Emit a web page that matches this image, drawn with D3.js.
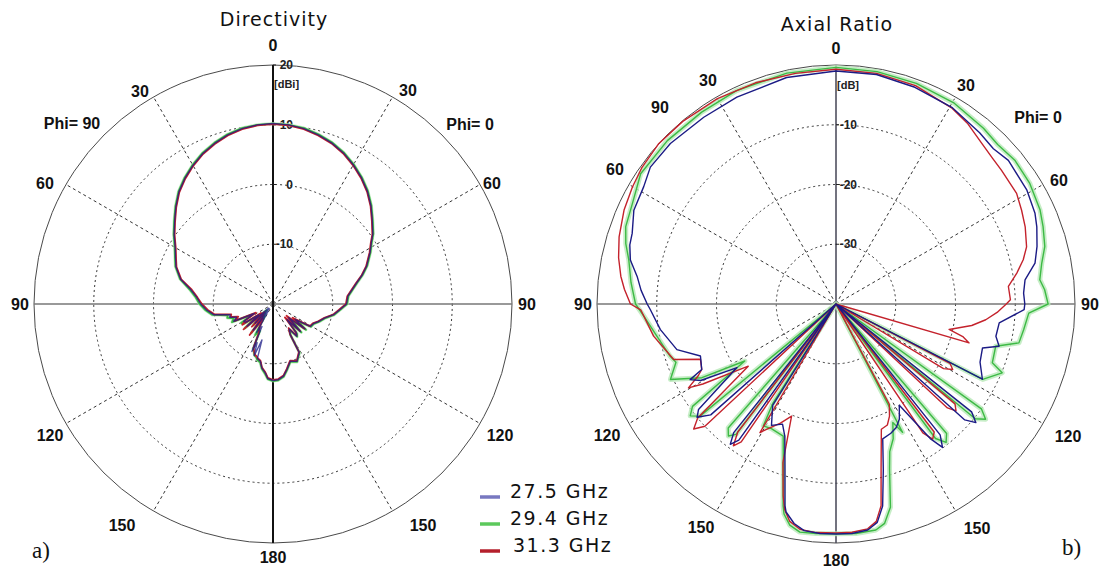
<!DOCTYPE html>
<html><head><meta charset="utf-8">
<script src="https://cdn.jsdelivr.net/npm/d3@7"></script>
<style>
body{margin:0;background:#fff;}
svg{display:block;}
</style></head>
<body>
<svg id="chart" width="1101" height="569"></svg>
<script>
// ---------------- DATA ----------------
const seriesNames = ["27.5 GHz", "29.4 GHz", "31.3 GHz"];
const angleTicks = [30, 60, 120, 150];

// Directivity (dBi) ; angle in degrees, 0 = top, + = Phi=0 side (right), - = Phi=90 side (left)
const dirTheta = [-180,-176,-173.6,-170.2,-167.5,-164,-162.9,-160,-157.7,-156,-154,-150,-146,-143,-140,-137,-134,-130.7,-127,-124,-120.6,-117,-113.8,-110,-107,-104,-100.2,-95,-90,-85,-80,-75,-69,-65,-60,-55,-50,-45,-40,-35,-30,-25,-20,-15,-10,-5,0,5,10,15,20,25,30,35,40,45,50,55,58,62,68,72,76,80,84,90,95,100,105,110.9,116,121,125,128,131,135,138.3,141,143.5,147,150.6,151.5,157.3,163.2,168,171.7,176,180];
const dir275 = [-7.2,-7.5,-8.4,-9.1,-10.2,-10.5,-13.7,-10.8,-13.0,-11.3,-15.8,-14.5,-18.5,-14.5,-19.0,-15.6,-19.0,-14.3,-17.0,-14.5,-14.3,-16.5,-12.8,-13.5,-12.4,-12.6,-9.9,-8.8,-7.9,-7.2,-6.0,-4.0,-2.6,-2.0,-1.1,0.2,1.5,3.0,4.5,5.7,6.8,7.8,8.6,9.3,9.8,10.1,10.2,10.1,9.8,9.3,8.7,7.9,6.9,5.8,4.6,3.2,1.7,0.4,-0.6,-1.6,-3.1,-4.3,-5.6,-6.6,-7.4,-7.7,-8.8,-9.7,-11.0,-11.8,-12.5,-12.7,-15.5,-13.2,-16.5,-13.5,-16.5,-13.8,-13.3,-15.0,-14.1,-10.8,-9.6,-10.0,-8.8,-7.8,-7.3,-7.2];
const dir294 = [-7.1,-7.4,-8.2,-9.0,-10.0,-10.3,-10.6,-10.9,-11.5,-11.8,-15.0,-14.0,-17.5,-14.0,-18.0,-15.2,-18.5,-13.8,-16.5,-14.0,-13.8,-16.0,-12.5,-13.0,-12.0,-12.2,-9.7,-8.6,-7.7,-7.0,-5.8,-3.9,-2.5,-1.9,-1.0,0.3,1.6,3.1,4.6,5.8,6.9,7.9,8.7,9.4,9.9,10.1,10.2,10.1,9.9,9.4,8.8,8.0,7.0,5.9,4.7,3.3,1.8,0.5,-0.5,-1.5,-3.0,-4.2,-5.5,-6.5,-7.3,-7.6,-8.7,-9.6,-10.9,-11.7,-12.4,-12.6,-15.0,-13.0,-16.0,-13.3,-16.0,-13.6,-13.2,-14.8,-14.0,-10.7,-9.5,-9.9,-8.7,-7.7,-7.2,-7.1];
const dir313 = [-7.3,-7.6,-8.5,-9.2,-10.3,-10.6,-10.8,-11.0,-11.6,-12.0,-14.5,-15.5,-17.0,-13.5,-17.5,-14.8,-18.0,-13.5,-17.5,-13.8,-14.6,-16.8,-13.0,-13.8,-12.6,-12.8,-10.1,-9.0,-8.1,-7.3,-6.2,-4.1,-2.7,-2.1,-1.2,0.1,1.4,2.9,4.4,5.6,6.7,7.7,8.5,9.2,9.7,10.0,10.1,10.0,9.7,9.2,8.6,7.8,6.8,5.7,4.5,3.1,1.6,0.3,-0.7,-1.7,-3.2,-4.4,-5.7,-6.7,-7.5,-7.8,-8.9,-9.8,-11.1,-11.9,-12.6,-12.8,-16.0,-13.3,-17.0,-13.6,-17.0,-13.9,-13.4,-15.2,-14.2,-10.9,-9.7,-10.1,-8.9,-7.9,-7.4,-7.3];

// Axial ratio (dB)
const ar275Theta = [-180,-176,-172,-169.2,-166.5,-165.8,-162.8,-158.8,-156,-152,-148,-146,-144.5,-143,-141.5,-138,-131.5,-129.2,-127.5,-122.7,-119.5,-117.4,-116,-111,-106,-98.3,-91.7,-90,-86,-82.1,-77.9,-74,-70.9,-65.1,-58.6,-53.6,-45.9,-35.3,-25.6,-12.3,0,10,20,30.5,40,45.4,50.2,59.2,65.5,69,74,78.4,82.7,86.7,90,91.7,96.6,101.4,104.5,106.7,112,117.2,119.5,128.5,130.3,132,135,141.5,143.4,145,148,151.2,154,157,160.9,164.1,167,169.3,172,176,180];
const ar275 = [-1.5,-1.5,-1.7,-2.6,-4.2,-5.2,-11.1,-16.3,-18.0,-17.0,-20.0,-40,-12.0,-10.6,-12.5,-40,-12.0,-10.0,-11.0,-20.3,-14.0,-12.5,-15.0,-15.7,-12.3,-10.3,-8.9,-8.4,-7.3,-6.4,-4.8,-4.1,-3.9,-2.7,-2.3,-1.4,-1.4,-1.7,-1.6,-1.2,-1.0,-1.0,-1.4,-1.8,-2.6,-3.0,-2.45,-2.8,-3.4,-4.0,-5.0,-6.0,-8.1,-8.55,-8.4,-8.5,-12.5,-12.7,-11.8,-14.4,-14.0,-12.45,-40,-11.0,-9.3,-11.0,-40,-12.0,-10.1,-12.5,-20.0,-18.0,-17.0,-16.5,-16.1,-11.1,-5.3,-2.8,-1.8,-1.5,-1.5];

const ar294Theta = [-180,-175,-171,-168.2,-166.1,-165.3,-162.3,-158.2,-152.6,-149.2,-147.5,-145.5,-142.5,-140.8,-139,-136,-129.5,-127.5,-125.5,-122,-118.8,-114.5,-110,-107.5,-100,-93.7,-90,-84,-78,-74,-69.8,-63.7,-56.3,-45.9,-35,-25,-12,0,10,20,30.5,40,45.4,51.2,58.1,65.3,69.5,74.6,78.8,83.2,86.1,90,92.7,97.8,102,104.8,110.6,112.5,117.2,120,125.8,127.6,129.5,132.5,139.5,141.5,143.5,146.5,152.6,154.4,157,160,162,165,167.5,170,175,180];
const ar294 = [-1.55,-1.45,-1.35,-2.2,-3.8,-5.1,-11.0,-16.2,-16.5,-16.25,-20.4,-40,-12.5,-11.5,-12.5,-40,-10.5,-9.25,-10.5,-22.0,-14.4,-9.55,-11.5,-10.9,-9.5,-7.8,-6.45,-5.5,-4.55,-3.4,-2.5,-2.0,-0.7,-0.7,-0.8,-0.6,-0.5,-0.4,-0.5,-0.7,-1.0,-1.6,-2.0,-1.6,-1.8,-2.4,-3.0,-3.75,-4.9,-5.65,-5.0,-4.5,-7.7,-8.3,-8.7,-12.35,-12.05,-9.9,-12.4,-40,-10.0,-8.4,-9.8,-40,-11.5,-10.4,-12.0,-40,-15.8,-18.0,-15.5,-13.7,-11.0,-4.8,-2.4,-1.6,-1.45,-1.55];

const ar313Theta = [-180,-175,-171,-168,-166,-164.6,-161.5,-158.4,-155,-151,-149.4,-147.5,-145.5,-144.1,-142.5,-139,-133,-131.3,-129.5,-125.3,-121,-119.6,-117.5,-116,-112.2,-108.9,-100,-91.7,-90,-86,-82.7,-78,-72.8,-66.1,-60.1,-55,-48,-40,-30,-20,-10,0,10,20,30.5,36,42.3,47,51.1,58.5,63.2,67.8,73.3,76.7,80.3,84.2,88.6,90,93,96,99,102.7,104.5,106.3,109,117.5,119.3,121,123,130,131.7,133,137,142.5,144.4,146,148.5,152,154.5,157,160.1,164.7,167.4,169.5,172,176,180];
const ar313 = [-1.7,-1.6,-1.8,-2.8,-4.5,-6.7,-12.0,-19.8,-18.0,-16.0,-15.0,-40,-12.0,-10.7,-13.0,-40,-10.0,-8.3,-10.0,-22.0,-14.0,-11.6,-14.0,-15.0,-15.5,-11.3,-9.0,-7.3,-5.6,-4.5,-3.7,-2.8,-2.0,-1.2,-0.7,-0.3,0.0,-0.1,-0.3,-0.6,-0.8,-0.7,-0.8,-1.1,-1.9,-2.6,-3.7,-4.2,-4.4,-4.55,-5.2,-5.8,-6.7,-7.8,-9.3,-11.0,-10.8,-11.5,-13.0,-14.8,-17.0,-20.6,-18.0,-16.8,-40,-18.5,-17.6,-19.0,-40,-14.0,-13.1,-14.5,-40,-13.0,-12.2,-14.0,-40,-21.0,-19.2,-18.0,-17.7,-11.4,-5.4,-3.0,-2.0,-1.7,-1.7];

// ---------------- LAYOUT ----------------
const svg = d3.select("#chart");
const R = 239;
const colors = {line: ["#1b1b85", "#3dba45", "#c4222c"], legend: ["#7878c0", "#5cc95c", "#b5202c"]};
const tickFont = "'Liberation Sans', Arial, sans-serif";

function zip(th, v) { return th.map((t, i) => ({t: t, v: v[i]})); }

function drawPolar(cfg) {
  const g = svg.append("g").attr("transform", `translate(${cfg.cx},${cfg.cy})`);
  const r = d3.scaleLinear().domain(cfg.domain).range([0, R]).clamp(true);

  g.append("circle").attr("r", R).attr("fill", "none").attr("stroke", "#4a4a4a").attr("stroke-width", 1);
  cfg.rings.forEach(v => {
    g.append("circle").attr("r", r(v)).attr("fill", "none")
      .attr("stroke", "#333").attr("stroke-width", 1).attr("stroke-dasharray", "2,3");
  });
  angleTicks.forEach(a => {
    [a, -a].forEach(aa => {
      const rad = aa * Math.PI / 180;
      g.append("line").attr("x1", 0).attr("y1", 0)
        .attr("x2", R * Math.sin(rad)).attr("y2", -R * Math.cos(rad))
        .attr("stroke", "#333").attr("stroke-width", 1).attr("stroke-dasharray", "3,3");
    });
  });
  g.append("line").attr("x1", -R).attr("x2", R).attr("y1", 0).attr("y2", 0)
    .attr("stroke", "#777").attr("stroke-width", 1.5);
  g.append("line").attr("x1", 0).attr("x2", 0).attr("y1", -R).attr("y2", R)
    .attr("stroke", cfg.vColor).attr("stroke-width", cfg.vWidth);

  // radial labels
  cfg.radialLabels.forEach(v => {
    g.append("line").attr("x1", 0).attr("x2", 3).attr("y1", -r(v)).attr("y2", -r(v))
      .attr("stroke", "#222").attr("stroke-width", 1);
    g.append("text").attr("x", cfg.radialDx).attr("y", -r(v) + 4).attr("text-anchor", "end")
      .attr("font-family", tickFont).attr("font-weight", "bold").attr("font-size", 12)
      .attr("fill", "#222").text(v < 0 ? "-" + Math.abs(v) : v);
  });
  g.append("text").attr("x", 1).attr("y", cfg.unitY).attr("font-family", tickFont)
    .attr("font-weight", "bold").attr("font-size", 11).attr("fill", "#222").text(cfg.unit);

  // curves
  const line = d3.lineRadial().angle(d => d.t * Math.PI / 180).radius(d => r(d.v)).curve(d3.curveLinear);
  [1, 2, 0].forEach(i => {
    const data = cfg.series[i];
    if (i === 1) {
      g.append("path").attr("d", line(data)).attr("fill", "none")
        .attr("stroke", "#b8e8b8").attr("stroke-width", cfg.glow).attr("stroke-linejoin", "round").attr("opacity", 0.8);
    }
    g.append("path").attr("d", line(data)).attr("fill", "none")
      .attr("stroke", colors.line[i]).attr("stroke-width", cfg.lw[i]).attr("stroke-linejoin", "round")
      .attr("opacity", cfg.op[i]);
  });

  // angle labels
  cfg.angleLabels.forEach(l => {
    g.append("text").attr("x", l[1]).attr("y", l[2] + 6).attr("text-anchor", "middle")
      .attr("font-family", tickFont).attr("font-weight", "bold").attr("font-size", 16)
      .attr("fill", "#111").text(l[0]);
  });
  svg.append("text").attr("x", cfg.cx + 1).attr("y", cfg.titleY).attr("text-anchor", "middle")
    .attr("font-family", "'DejaVu Sans', sans-serif").attr("font-size", 19)
    .attr("letter-spacing", 1).attr("fill", "#111").text(cfg.title);
}

drawPolar({
  cx: 273, cy: 304, domain: [-20, 20], rings: [-10, 0, 10],
  vColor: "#111", vWidth: 2,
  radialLabels: [20, 10, 0, -10], radialDx: 20, unit: "[dBi]", unitY: -216,
  series: [zip(dirTheta, dir275), zip(dirTheta, dir294), zip(dirTheta, dir313)],
  lw: [1.4, 1.8, 1.8], op: [0.75, 1, 1], glow: 3,
  title: "Directivity", titleY: 26,
  angleLabels: [["0", 0, -259], ["30", -133, -213], ["Phi= 90", -201, -181], ["60", -228, -121],
    ["90", -253, 0], ["120", -223, 131], ["150", -151, 221], ["180", 0, 253],
    ["150", 150, 221], ["120", 227, 131], ["90", 254, 0], ["60", 219, -121], ["Phi= 0", 197, -180], ["30", 135, -214]]
});

drawPolar({
  cx: 836, cy: 304, domain: [-40, 0], rings: [-30, -20, -10],
  vColor: "#445", vWidth: 1.5,
  radialLabels: [-10, -20, -30], radialDx: 21, unit: "[dB]", unitY: -215,
  series: [zip(ar275Theta, ar275), zip(ar294Theta, ar294), zip(ar313Theta, ar313)],
  lw: [1.4, 1.4, 1.4], op: [1, 1, 1], glow: 5,
  title: "Axial Ratio", titleY: 31,
  angleLabels: [["0", 0, -256], ["30", -128, -224], ["90", -176, -197], ["60", -221, -135],
    ["90", -253, 0], ["120", -229, 131], ["150", -135, 223], ["180", 0, 256],
    ["150", 141, 224], ["120", 232, 132], ["90", 254, 0], ["60", 223, -124], ["Phi= 0", 202, -187], ["30", 130, -219]]
});

// legend
const lg = svg.append("g");
const legY = [497, 524, 551];
const legX = [510, 510, 513];
seriesNames.forEach((n, i) => {
  lg.append("line").attr("x1", 480).attr("x2", 500).attr("y1", legY[i]).attr("y2", legY[i])
    .attr("stroke", colors.legend[i]).attr("stroke-width", 3.5);
  lg.append("text").attr("x", legX[i]).attr("y", legY[i] + 1).attr("font-family", "'DejaVu Sans', sans-serif")
    .attr("font-size", 19).attr("letter-spacing", 1.5).attr("fill", "#111").text(n);
});

svg.append("text").attr("x", 32).attr("y", 558).attr("font-family", "'Liberation Serif', serif")
  .attr("font-size", 23).attr("fill", "#111").text("a)");
svg.append("text").attr("x", 1062).attr("y", 555).attr("font-family", "'Liberation Serif', serif")
  .attr("font-size", 23).attr("fill", "#111").text("b)");
</script>
</body></html>
